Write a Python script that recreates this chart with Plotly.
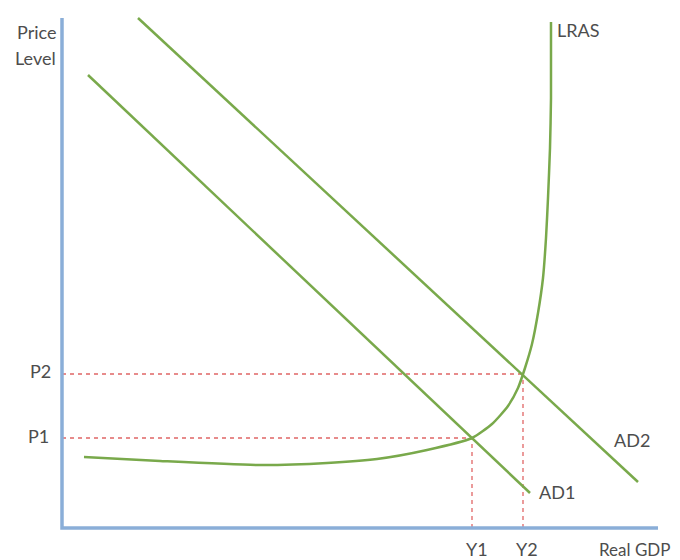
import plotly.graph_objects as go

# Data (abstract units: x = real GDP, y = price level)
ad1_x = [26, 468]
ad1_y = [453, 35]
ad2_x = [76, 576]
ad2_y = [510, 46]
lras_x = [22, 98, 198, 265, 315, 365, 410, 430, 446, 456, 463, 470, 476, 481, 484, 486, 488, 489, 489]
lras_y = [71, 67, 63, 65, 69, 78, 90, 104, 122, 140, 160, 184, 215, 250, 290, 330, 380, 430, 506]
eq_x = [410, 461]          # Y1, Y2
eq_y = [90, 154]           # P1, P2
price_labels = ["P1", "P2"]
gdp_labels = ["Y1", "Y2"]
axis_x_max = 596
axis_y_max = 510

GREEN = "#79a94b"
BLUE = "#8aaed8"
RED = "#e06666"
TXT = "#4d4d4d"
FONT = "Lato"
FS = 18

fig = go.Figure()

# dashed guide lines
for xv, yv in zip(eq_x, eq_y):
    fig.add_trace(go.Scatter(x=[0, xv], y=[yv, yv], mode="lines",
                             line=dict(color=RED, width=1.3, dash="4px,4px"), hoverinfo="skip"))
    fig.add_trace(go.Scatter(x=[xv, xv], y=[0, yv], mode="lines",
                             line=dict(color=RED, width=1.3, dash="4px,4px"), hoverinfo="skip"))

# axes
fig.add_trace(go.Scatter(x=[0, 0, axis_x_max], y=[axis_y_max, 0, 0], mode="lines",
                         line=dict(color=BLUE, width=3.5), hoverinfo="skip"))

# curves
fig.add_trace(go.Scatter(x=ad1_x, y=ad1_y, mode="lines", line=dict(color=GREEN, width=2.5)))
fig.add_trace(go.Scatter(x=ad2_x, y=ad2_y, mode="lines", line=dict(color=GREEN, width=2.5)))
fig.add_trace(go.Scatter(x=lras_x, y=lras_y, mode="lines",
                         line=dict(color=GREEN, width=2.5, shape="spline", smoothing=0.6)))

ann = []
def label(x, y, text, xanchor="center", yanchor="middle", size=FS):
    ann.append(dict(x=x, y=y, text=text, showarrow=False, xanchor=xanchor, yanchor=yanchor,
                    font=dict(family=FONT, size=size, color=TXT)))

label(-4, 496, "Price", xanchor="right")
label(-4, 470, "Level", xanchor="right")
label(lras_x[-1] + 4, 498, "LRAS", xanchor="left")
label(-9, 157, price_labels[1], xanchor="right")
label(-11, 92, price_labels[0], xanchor="right")
label(eq_x[0] + 5, -21, gdp_labels[0])
label(eq_x[1] + 4, -21, gdp_labels[1])
label(550, 88, "AD2", xanchor="left")
label(475, 36, "AD1", xanchor="left")
label(572, -21, "Real GDP", size=17)

fig.update_layout(
    width=680, height=560,
    margin=dict(l=0, r=0, t=0, b=0),
    paper_bgcolor="white", plot_bgcolor="white",
    showlegend=False,
    annotations=ann,
    xaxis=dict(range=[-62, 618], visible=False, fixedrange=True),
    yaxis=dict(range=[-32, 528], visible=False, fixedrange=True),
)

fig.write_html("out.html", config={"displayModeBar": False},
               post_script="document.body.style.margin='0';document.body.style.overflow='hidden';")
